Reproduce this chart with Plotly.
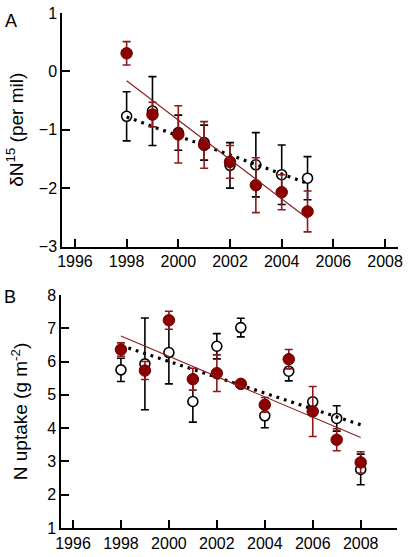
import plotly.graph_objects as go

# ---------------- Panel A: delta 15N ----------------
years_a = [1998, 1999, 2000, 2001, 2002, 2003, 2004, 2005]
d15n_filled = [0.31, -0.74, -1.08, -1.26, -1.55, -1.95, -2.07, -2.40]
d15n_filled_err = [0.20, 0.21, 0.49, 0.40, 0.28, 0.47, 0.30, 0.35]
d15n_open = [-0.77, -0.68, -1.05, -1.22, -1.61, -1.60, -1.77, -1.83]
d15n_open_err = [0.42, 0.59, 0.30, 0.30, 0.39, 0.55, 0.51, 0.37]
fit_a_x = [1998, 2005]
fit_a_filled = [-0.16, -2.52]
fit_a_open = [-0.78, -1.92]

# ---------------- Panel B: N uptake ----------------
years_b = [1998, 1999, 2000, 2001, 2002, 2003, 2004, 2005, 2006, 2007, 2008]
nup_filled = [6.36, 5.73, 7.24, 5.47, 5.65, 5.33, 4.70, 6.07, 4.50, 3.65, 2.97]
nup_filled_err = [0.20, 0.27, 0.27, 0.33, 0.55, 0.05, 0.22, 0.29, 0.75, 0.33, 0.32]
nup_open = [5.75, 5.93, 6.27, 4.80, 6.46, 7.02, 4.37, 5.71, 4.79, 4.29, 2.76]
nup_open_err = [0.35, 1.38, 0.94, 0.62, 0.38, 0.28, 0.36, 0.29, 0.10, 0.38, 0.46]
fit_b_x = [1998, 2008]
fit_b_filled = [6.77, 3.72]
fit_b_open = [6.48, 4.10]

x_ticks = [1996, 1998, 2000, 2002, 2004, 2006, 2008]

RED = "#8b0000"
RED_ERR = "#8b1a1a"
FONT = "Arial, Liberation Sans, Helvetica, sans-serif"

fig = go.Figure()


def add_panel(xa, ya, years, fv, fe, ov, oe, fx, ffit, ofit):
    # open circles
    fig.add_trace(go.Scatter(
        x=years, y=ov, mode="markers", xaxis=xa, yaxis=ya,
        marker=dict(symbol="circle", size=10, color="white",
                    line=dict(color="black", width=1.6)),
        error_y=dict(type="data", array=oe, color="black",
                     thickness=1.6, width=4),
        showlegend=False, hoverinfo="x+y"))
    # dotted fit for open series
    fig.add_trace(go.Scatter(
        x=fx, y=ofit, mode="lines", xaxis=xa, yaxis=ya,
        line=dict(color="black", width=3.2, dash="2.8px,5px"),
        showlegend=False, hoverinfo="skip"))
    # filled circles
    fig.add_trace(go.Scatter(
        x=years, y=fv, mode="markers", xaxis=xa, yaxis=ya,
        marker=dict(symbol="circle", size=11.5, color=RED,
                    line=dict(color="#700000", width=1)),
        error_y=dict(type="data", array=fe, color=RED_ERR,
                     thickness=1.6, width=4),
        showlegend=False, hoverinfo="x+y"))
    # solid fit for filled series
    fig.add_trace(go.Scatter(
        x=fx, y=ffit, mode="lines", xaxis=xa, yaxis=ya,
        line=dict(color=RED_ERR, width=1.1),
        showlegend=False, hoverinfo="skip"))


add_panel("x", "y", years_a, d15n_filled, d15n_filled_err, d15n_open,
          d15n_open_err, fit_a_x, fit_a_filled, fit_a_open)
add_panel("x2", "y2", years_b, nup_filled, nup_filled_err, nup_open,
          nup_open_err, fit_b_x, fit_b_filled, fit_b_open)

axis_common = dict(
    showline=True, linecolor="black", linewidth=1.5,
    ticks="inside", ticklen=8, tickwidth=1.5, tickcolor="black",
    showgrid=False, zeroline=False, ticklabeloverflow="allow",
    tickfont=dict(family=FONT, size=16, color="black"),
)

fig.update_layout(
    width=408, height=557,
    margin=dict(l=61, r=5, t=7, b=24),
    paper_bgcolor="white", plot_bgcolor="white",
    font=dict(family=FONT, color="black"),
    xaxis=dict(domain=[0.003, 1.0], range=[1995.5, 2008.5],
               tickvals=x_ticks, anchor="y", **axis_common),
    yaxis=dict(domain=[0.5466, 1.0], range=[-3, 1],
               tickvals=[-3, -2, -1, 0, 1], anchor="x",
               title=dict(text="δN<sup>15</sup> (per mil)",
                          font=dict(family=FONT, size=19), standoff=10),
               **axis_common),
    xaxis2=dict(domain=[0.0, 0.996], range=[1995.5, 2009.5],
                tickvals=x_ticks, anchor="y2", **axis_common),
    yaxis2=dict(domain=[0.0, 0.4525], range=[1, 8],
                tickvals=[1, 2, 3, 4, 5, 6, 7, 8], anchor="x2",
                title=dict(text="N uptake (g m<sup>-2</sup>)",
                           font=dict(family=FONT, size=19), standoff=14),
                **axis_common),
    annotations=[
        dict(text="A", xref="paper", yref="paper", x=-0.172, y=1.008,
             xanchor="left", yanchor="top", showarrow=False,
             font=dict(family=FONT, size=18, color="black")),
        dict(text="B", xref="paper", yref="paper", x=-0.175, y=0.4715,
             xanchor="left", yanchor="top", showarrow=False,
             font=dict(family=FONT, size=18, color="black")),
    ],
)

fig.write_html("out.html",
               config={"displayModeBar": False},
               post_script="document.body.style.margin='0';"
                           "document.body.style.overflow='hidden';")
